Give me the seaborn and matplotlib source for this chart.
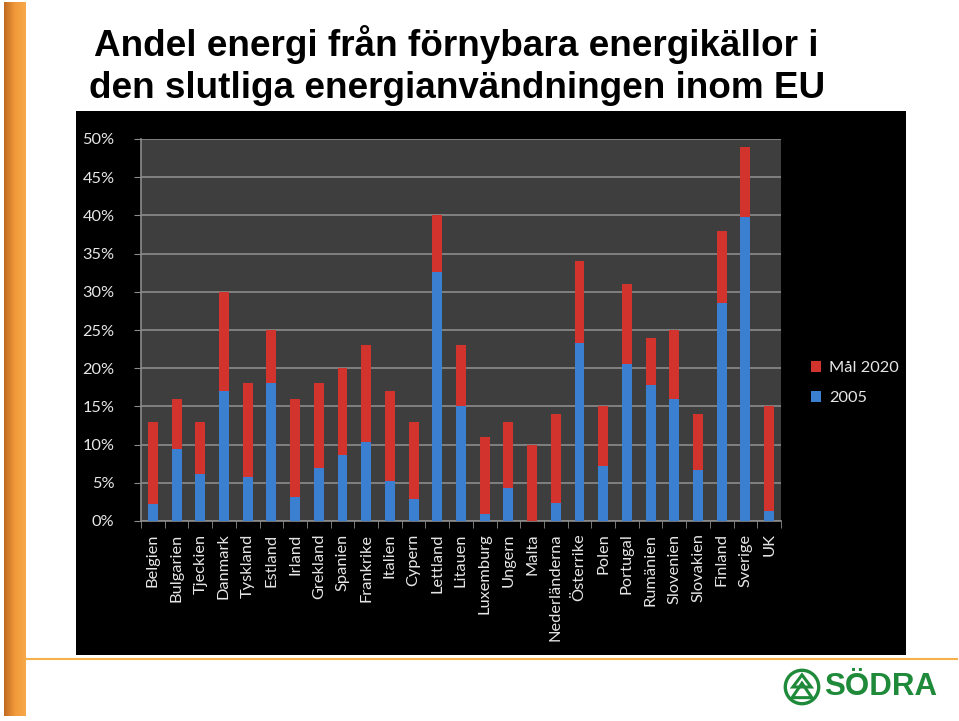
import numpy as np
import pandas as pd
import seaborn as sns
import matplotlib.pyplot as plt
from matplotlib.patches import Circle, Polygon, Patch
from matplotlib.lines import Line2D
from matplotlib.colors import LinearSegmentedColormap

countries = ["Belgien", "Bulgarien", "Tjeckien", "Danmark", "Tyskland", "Estland",
             "Irland", "Grekland", "Spanien", "Frankrike", "Italien", "Cypern",
             "Lettland", "Litauen", "Luxemburg", "Ungern", "Malta", "Nederländerna",
             "Österrike", "Polen", "Portugal", "Rumänien", "Slovenien", "Slovakien",
             "Finland", "Sverige", "UK"]
share_2005 = [2.2, 9.4, 6.1, 17.0, 5.8, 18.0, 3.1, 6.9, 8.7, 10.3, 5.2, 2.9,
              32.6, 15.0, 0.9, 4.3, 0.0, 2.4, 23.3, 7.2, 20.5, 17.8, 16.0, 6.7,
              28.5, 39.8, 1.3]
target_2020 = [13, 16, 13, 30, 18, 25, 16, 18, 20, 23, 17, 13, 40, 23, 11, 13,
               10, 14, 34, 15, 31, 24, 25, 14, 38, 49, 15]
yticks = [0, 5, 10, 15, 20, 25, 30, 35, 40, 45, 50]
legend_labels = ["Mål 2020", "2005"]
title_lines = ["Andel energi från förnybara energikällor i",
               "den slutliga energianvändningen inom EU"]

df = pd.DataFrame({"land": countries, "v2005": share_2005, "mal": target_2020})

RED = "#d2332c"
BLUE = "#3b7fd1"
TXT = "#e6e6e6"
FONT = "Lato"
FS = 11.8

W, H = 959, 721
fig = plt.figure(figsize=(W / 100, H / 100), dpi=100)
fig.patch.set_facecolor("white")

def fx(x): return x / W
def fy(y): return 1 - y / H

# orange left bar with gradient
ax_or = fig.add_axes([fx(4), fy(716), fx(22), 714 / H])
grad = np.linspace(0, 1, 64).reshape(1, -1)
cm = LinearSegmentedColormap.from_list("o", ["#c06a20", "#f29a3a", "#f7a84a"])
ax_or.imshow(grad, aspect="auto", cmap=cm)
ax_or.axis("off")

# black panel (background axes)
ax_bg = fig.add_axes([fx(76), fy(655), fx(906) - fx(76), fy(111) - fy(655)])
ax_bg.set_facecolor("black")
ax_bg.set_xticks([]); ax_bg.set_yticks([])
for s in ax_bg.spines.values():
    s.set_visible(False)
ax_bg.set_zorder(-5)

# orange line bottom
fig.lines.append(Line2D([fx(26), fx(957)], [fy(659), fy(659)], transform=fig.transFigure,
                        color="#f5b04a", lw=1.5))

# title
for i, t in enumerate(title_lines):
    fig.text(fx(94 if i == 0 else 89), fy(44 if i == 0 else 89), t,
             fontfamily="Liberation Sans", fontweight="bold", fontsize=26.6,
             color="black", va="center", ha="left")

# main axes
ax = fig.add_axes([fx(141), fy(521), fx(781) - fx(141), fy(139) - fy(521)])
ax.set_facecolor("#3e3e3e")
sns.barplot(data=df, x="land", y="mal", color=RED, width=0.42, ax=ax,
            saturation=1, zorder=3)
sns.barplot(data=df, x="land", y="v2005", color=BLUE, width=0.42, ax=ax,
            saturation=1, zorder=4)
if ax.get_legend() is not None:
    ax.get_legend().remove()
ax.set_ylim(0, 50)
ax.set_xlim(-0.5, len(countries) - 0.5)
ax.set_yticks(yticks)
ax.set_yticklabels([f"{v}%" for v in yticks])
ax.yaxis.grid(True, color="#8c8c8c", lw=1.2, zorder=1)
ax.set_axisbelow(True)
ax.set_xlabel("")
ax.set_ylabel("")
for s in ["top", "right"]:
    ax.spines[s].set_visible(False)
for s in ["left", "bottom"]:
    ax.spines[s].set_color("#8c8c8c")
    ax.spines[s].set_linewidth(1.2)
ax.set_xticks(range(len(countries)))
ax.set_xticklabels(countries, rotation=90, fontfamily=FONT, fontsize=FS, color=TXT)
for lbl in ax.get_yticklabels():
    lbl.set_fontfamily(FONT)
    lbl.set_fontsize(FS)
    lbl.set_color(TXT)
ax.tick_params(axis="x", length=0, pad=9)
ax.tick_params(axis="y", length=5, color="#8c8c8c", pad=14)
ax.set_xticks(np.arange(-0.5, len(countries), 1.0), minor=True)
ax.tick_params(axis="x", which="minor", length=5, color="#8c8c8c")

handles = [Patch(facecolor=RED, edgecolor="none"), Patch(facecolor=BLUE, edgecolor="none")]
leg = fig.legend(handles, legend_labels, loc="center left",
                 bbox_to_anchor=(fx(796), fy(383)), frameon=False,
                 handlelength=0.65, handleheight=0.65, handletextpad=0.45,
                 labelspacing=1.0, prop={"family": FONT, "size": FS})
for t in leg.get_texts():
    t.set_color(TXT)

# Södra logo
green = "#1f8a3a"
ax_logo = fig.add_axes([fx(783), fy(706), fx(38), 38 / H])
ax_logo.set_xlim(0, 1); ax_logo.set_ylim(0, 1); ax_logo.set_aspect("equal")
ax_logo.axis("off")
ax_logo.add_patch(Circle((0.5, 0.5), 0.44, fill=False, ec=green, lw=2.4))
ax_logo.add_patch(Polygon([[0.5, 0.82], [0.26, 0.5], [0.74, 0.5]], closed=True,
                          fill=False, ec=green, lw=2.2))
ax_logo.add_patch(Polygon([[0.5, 0.6], [0.24, 0.22], [0.76, 0.22]], closed=True,
                          fill=False, ec=green, lw=2.2))
fig.text(fx(824), fy(687), "SÖDRA", fontfamily="Liberation Sans", fontweight="bold",
         fontsize=22.5, color=green, va="center", ha="left")

fig.savefig("out.png", dpi=100, facecolor="white")
